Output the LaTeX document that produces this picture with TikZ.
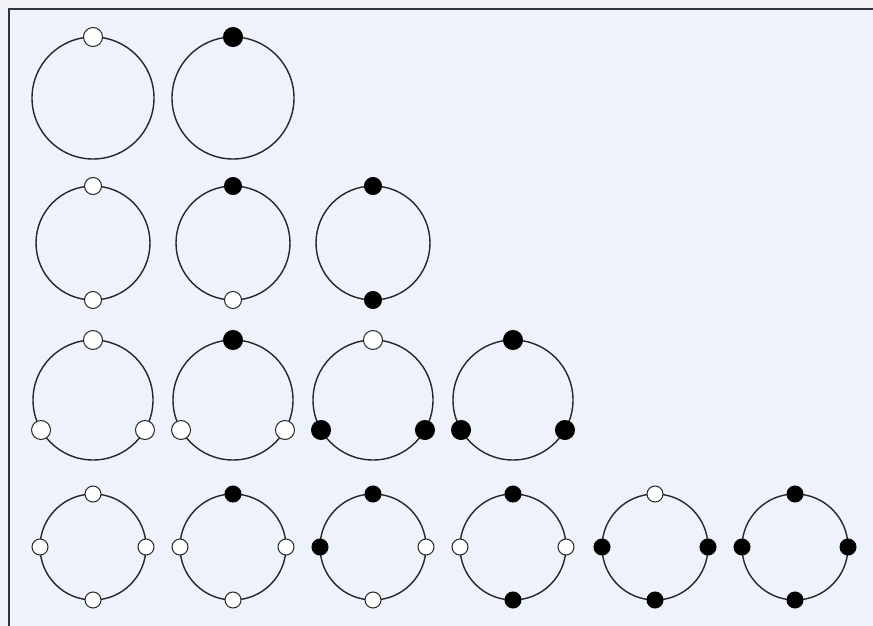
\documentclass[tikz,border=0pt]{standalone}
\begin{document}
\begin{tikzpicture}[x=1pt,y=-1pt,
  ring/.style={draw=black!85, line width=1.4pt, circle, inner sep=0pt, outer sep=0pt, minimum size=#1},
  wdot/.style={draw=black!85, line width=1pt, fill=white, circle, inner sep=0pt, minimum size=#1},
  bdot/.style={draw=black, line width=1pt, fill=black, circle, inner sep=0pt, minimum size=#1}]
\definecolor{bgout}{HTML}{F1F3F8}
\definecolor{bgin}{HTML}{EDF2FB}
\definecolor{frame}{HTML}{2E3440}
\useasboundingbox (0,0) rectangle (873,626);
\fill[bgout] (0,0) rectangle (873,626);
\fill[bgin] (9,9) rectangle (873,626);
\draw[frame, line width=1.3pt] (9,626) -- (9,9) -- (873,9);
% row 1
\node[ring=122] (a1) at (93,98) {};
\node[ring=122] (a2) at (233,98) {};
\node[wdot=19] (a1t) at (a1.north) {};
\node[bdot=19] (a2t) at (a2.north) {};
% row 2
\foreach \i/\x in {1/93,2/233,3/373} \node[ring=114] (b\i) at (\x,243) {};
\node[wdot=17] (b1t) at (b1.north) {};
\node[wdot=17] (b1b) at (b1.south) {};
\node[bdot=17] (b2t) at (b2.north) {};
\node[wdot=17] (b2b) at (b2.south) {};
\node[bdot=17] (b3t) at (b3.north) {};
\node[bdot=17] (b3b) at (b3.south) {};
% row 3
\foreach \i/\x in {1/93,2/233,3/373,4/513} \node[ring=120] (c\i) at (\x,400) {};
\node[wdot=19] (c1t) at (c1.north) {};
\node[wdot=19] (c1l) at (c1.210) {};
\node[wdot=19] (c1r) at (c1.330) {};
\node[bdot=19] (c2t) at (c2.north) {};
\node[wdot=19] (c2l) at (c2.210) {};
\node[wdot=19] (c2r) at (c2.330) {};
\node[wdot=19] (c3t) at (c3.north) {};
\node[bdot=19] (c3l) at (c3.210) {};
\node[bdot=19] (c3r) at (c3.330) {};
\node[bdot=19] (c4t) at (c4.north) {};
\node[bdot=19] (c4l) at (c4.210) {};
\node[bdot=19] (c4r) at (c4.330) {};
% row 4
\foreach \i/\x in {1/93,2/233,3/373,4/513,5/655,6/795} \node[ring=106] (d\i) at (\x,547) {};
\foreach \i/\t/\l/\r/\b in {1/w/w/w/w,2/b/w/w/w,3/b/b/w/w,4/b/w/w/b,5/w/b/b/b,6/b/b/b/b}{
  \node[\t dot=16] (d\i t) at (d\i.north) {};
  \node[\l dot=16] (d\i l) at (d\i.west) {};
  \node[\r dot=16] (d\i r) at (d\i.east) {};
  \node[\b dot=16] (d\i b) at (d\i.south) {};
}
\end{tikzpicture}
\end{document}
